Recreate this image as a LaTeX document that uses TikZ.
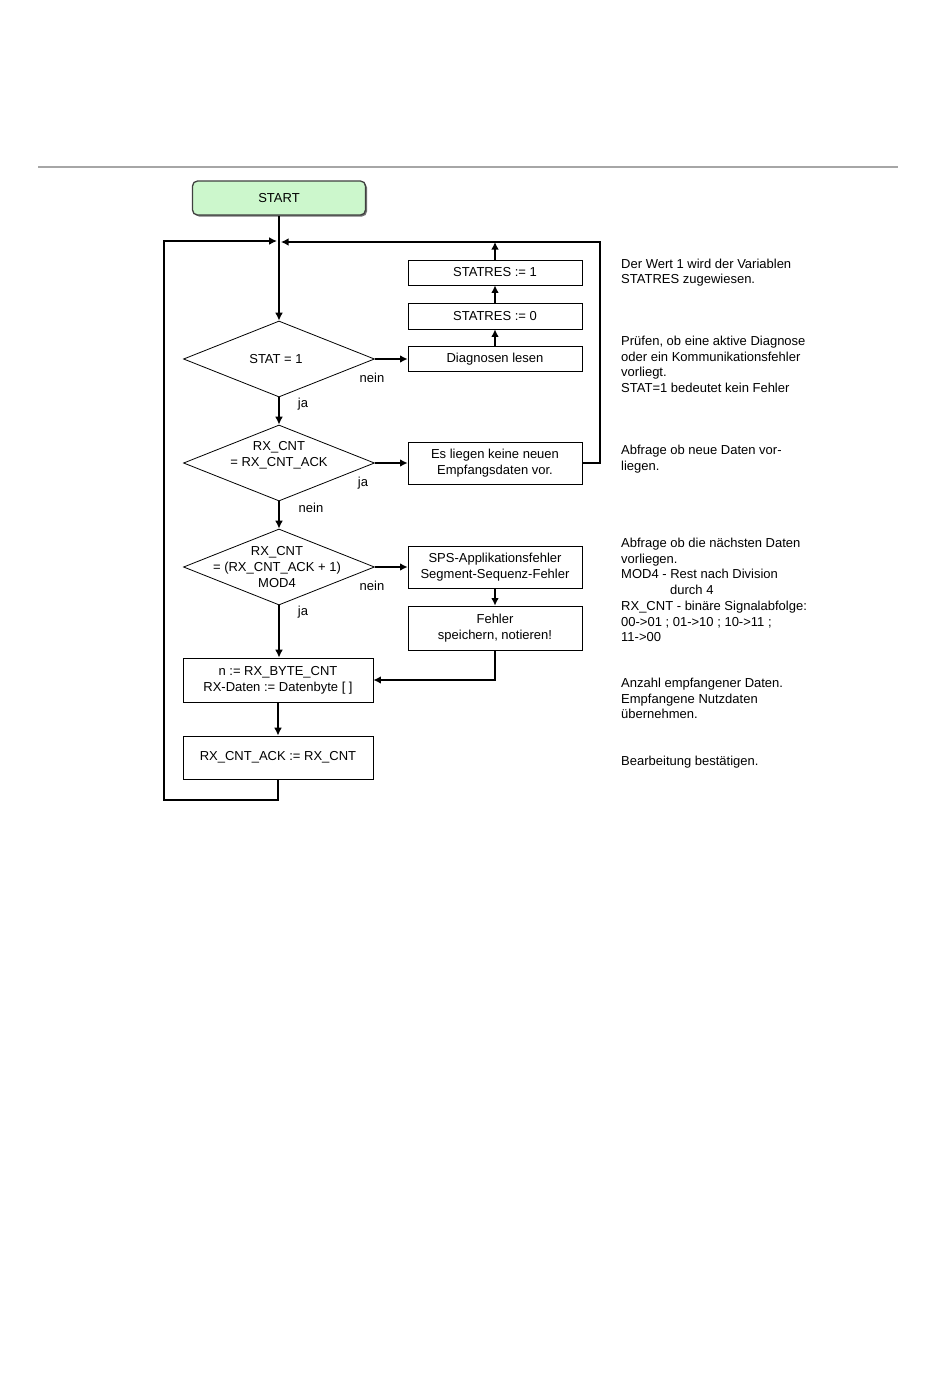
\documentclass[tikz,border=0pt]{standalone}
\usepackage{fontspec}
\setmainfont{Liberation Sans}
\usetikzlibrary{shapes.geometric,arrows.meta,shadows}
\definecolor{startgreen}{RGB}{204,247,204}
\begin{document}
\begin{tikzpicture}[x=1pt,y=-1pt,
  font=\fontsize{13}{15.7}\selectfont,
  box/.style={draw,line width=0.8pt,inner sep=0pt,align=center,minimum width=174pt},
  wbox/.style={draw,line width=0.8pt,inner sep=0pt,align=center,minimum width=190pt},
  dia/.style={diamond,draw,line width=0.8pt,inner sep=0pt,aspect=2.5,minimum width=191pt,minimum height=76pt},
  dtext/.style={align=center,inner sep=0pt},
  lbl/.style={inner sep=0pt},
  note/.style={align=left,inner sep=0pt,anchor=base west},
  startbox/.style={draw=black!75,line width=1.3pt,rounded corners=5pt,fill=startgreen,
     minimum width=173pt,minimum height=34pt,
     drop shadow={shadow xshift=1.5pt,shadow yshift=-1.5pt,fill=black!55,opacity=1}},
  flow/.style={line width=1.8pt,-{Latex[length=8pt,width=8pt]}},
  thinflow/.style={line width=1.2pt,-{Latex[length=7.5pt,width=7.5pt]}}
]
\useasboundingbox (0,0) rectangle (950,1379);

% top rule
\draw[black!35,line width=1.3pt] (38,167) -- (898,167);

% nodes
\node[startbox] (start) at (279,198) {START};

\node[box,minimum height=25pt] (b1) at (495,272.5) {STATRES := 1};
\node[box,minimum height=26pt] (b0) at (495,316) {STATRES := 0};
\node[box,minimum height=25pt] (diag) at (495,359) {Diagnosen lesen};
\node[box,minimum height=42pt] (keine) at (495,463) {Es liegen keine neuen\\Empfangsdaten vor.};
\node[box,minimum height=42pt] (sps) at (495,567) {SPS-Applikationsfehler\\Segment-Sequenz-Fehler};
\node[box,minimum height=44pt] (fehler) at (495,628) {Fehler\\speichern, notieren!};

\node[dia] (d1) at (279,359) {};
\node[dtext] (d1t) at (276,359) {STAT = 1};
\node[dia] (d2) at (279,463) {};
\node[dtext] (d2t) at (279,455) {RX\_CNT\\= RX\_CNT\_ACK};
\node[dia] (d3) at (279,567) {};
\node[dtext] (d3t) at (277,567) {RX\_CNT\\= (RX\_CNT\_ACK + 1)\\MOD4};

\node[wbox,minimum height=44pt] (nbox) at (278,680) {n := RX\_BYTE\_CNT\\RX-Daten := Datenbyte [ ]};
\node[wbox,minimum height=43pt] (ack) at (278,757.5) {RX\_CNT\_ACK := RX\_CNT};

% branch labels
\node[lbl] (l1) at (372,378) {nein};
\node[lbl] (l2) at (303,404) {ja};
\node[lbl] (l3) at (363,483) {ja};
\node[lbl] (l4) at (311,508) {nein};
\node[lbl] (l5) at (372,586) {nein};
\node[lbl] (l6) at (303,612) {ja};

% helper coordinates
\coordinate (mL) at (277,241);
\coordinate (mR) at (281,242);
\coordinate (lb) at (164,800);
\coordinate (lt) at (164,241);
\coordinate (rt) at (600,242);

% connectors
\draw[flow] (start.south) -- (d1.north);
\draw[flow] (ack.south) |- (lb) -- (lt) -- (mL);
\draw[thinflow] (keine.east) -| (rt) -- (mR);
\draw[thinflow] (b1.north) -- (b1.north |- rt);
\draw[thinflow] (b0.north) -- (b1.south);
\draw[thinflow] (diag.north) -- (b0.south);
\draw[thinflow] (d1.east) -- (diag.west);
\draw[flow] (d1.south) -- (d2.north);
\draw[thinflow] (d2.east) -- (keine.west);
\draw[flow] (d2.south) -- (d3.north);
\draw[thinflow] (d3.east) -- (sps.west);
\draw[thinflow] (sps.south) -- (fehler.north);
\draw[flow] (d3.south) -- (d3.south |- nbox.north);
\draw[thinflow] (fehler.south) |- (nbox.east);
\draw[flow] (nbox.south) -- (ack.north);

% notes (anchor = baseline of the last line)
\node[note] (t1) at (621,283.7) {Der Wert 1 wird der Variablen\\STATRES zugewiesen.};
\node[note] (t2) at (621,392.6) {Prüfen, ob eine aktive Diagnose\\oder ein Kommunikationsfehler\\vorliegt.\\STAT=1 bedeutet kein Fehler};
\node[note] (t3) at (621,470.2) {Abfrage ob neue Daten vor-\\liegen.};
\node[note] (t4) at (621,641.7) {Abfrage ob die nächsten Daten\\vorliegen.\\MOD4 - Rest nach Division\\\hspace*{49pt}durch 4\\RX\_CNT - binäre Signalabfolge:\\00->01 ; 01->10 ; 10->11 ;\\11->00};
\node[note] (t5) at (621,718.9) {Anzahl empfangener Daten.\\Empfangene Nutzdaten\\übernehmen.};
\node[note] (t6) at (621,765.5) {Bearbeitung bestätigen.};
\end{tikzpicture}
\end{document}
